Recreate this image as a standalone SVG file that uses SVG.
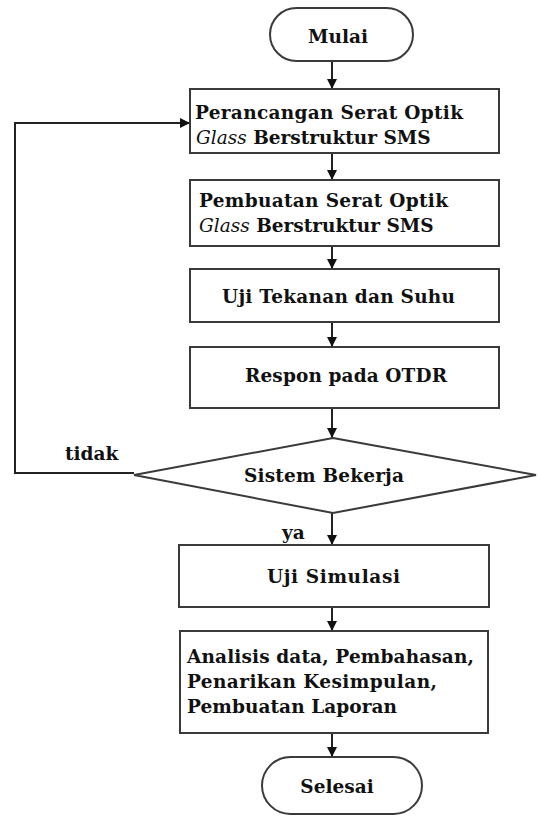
<svg xmlns="http://www.w3.org/2000/svg" width="539" height="821" viewBox="0 0 539 821">
<defs>
<marker id="ah" viewBox="0 0 10 10" refX="10" refY="5" markerWidth="10" markerHeight="10" markerUnits="userSpaceOnUse" orient="auto">
<path d="M0,0 L10,5 L0,10 z" fill="#111"/>
</marker>
<style>
.shape{fill:#fff;stroke:#3a3a3a;stroke-width:2}
.t{font-family:"DejaVu Serif","Liberation Serif",serif;font-weight:bold;font-size:18.5px;fill:#111}
.i{font-style:italic;font-weight:normal}
.c{fill:none;stroke:#222;stroke-width:2}
</style>
</defs>
<rect width="539" height="821" fill="#fff"/>
<g id="connectors">
<line class="c" x1="332" y1="61" x2="332" y2="89" marker-end="url(#ah)"/>
<line class="c" x1="332" y1="153" x2="332" y2="180" marker-end="url(#ah)"/>
<line class="c" x1="332" y1="246" x2="332" y2="269" marker-end="url(#ah)"/>
<line class="c" x1="332" y1="322" x2="332" y2="347" marker-end="url(#ah)"/>
<line class="c" x1="332" y1="408" x2="332" y2="438" marker-end="url(#ah)"/>
<line class="c" x1="332" y1="513" x2="332" y2="545" marker-end="url(#ah)"/>
<line class="c" x1="332" y1="607" x2="332" y2="631" marker-end="url(#ah)"/>
<line class="c" x1="332" y1="733" x2="332" y2="757" marker-end="url(#ah)"/>
<polyline class="c" points="134,473 15,473 15,123 190,123" marker-end="url(#ah)"/>
<text class="t" x="65" y="460">tidak</text>
<text class="t" x="282" y="539">ya</text>
</g>
<g id="mulai">
<rect class="shape" x="270" y="8" width="143" height="53" rx="26.5"/>
<text class="t" x="338" y="43" text-anchor="middle">Mulai</text>
</g>
<g id="perancangan">
<rect class="shape" x="190" y="89" width="309" height="64"/>
<text class="t" x="195" y="119" textLength="268">Perancangan Serat Optik</text>
<text class="t" x="196" y="144"><tspan class="i">Glass</tspan> Berstruktur SMS</text>
</g>
<g id="pembuatan">
<rect class="shape" x="190" y="180" width="309" height="66"/>
<text class="t" x="199" y="207" textLength="249">Pembuatan Serat Optik</text>
<text class="t" x="199" y="232"><tspan class="i">Glass</tspan> Berstruktur SMS</text>
</g>
<g id="uji-tekanan">
<rect class="shape" x="190" y="269" width="309" height="53"/>
<text class="t" x="222" y="303" textLength="233">Uji Tekanan dan Suhu</text>
</g>
<g id="respon">
<rect class="shape" x="190" y="347" width="309" height="61"/>
<text class="t" x="245" y="382" textLength="202">Respon pada OTDR</text>
</g>
<g id="sistem">
<polygon class="shape" points="333,438 536,475 333,513 134,475"/>
<text class="t" x="244" y="482" textLength="160">Sistem Bekerja</text>
</g>
<g id="uji-simulasi">
<rect class="shape" x="179" y="545" width="310" height="62"/>
<text class="t" x="267" y="583" textLength="133">Uji Simulasi</text>
</g>
<g id="analisis">
<rect class="shape" x="180" y="631" width="308" height="102"/>
<text class="t" x="187" y="663" textLength="287">Analisis data, Pembahasan,</text>
<text class="t" x="187" y="688" textLength="250">Penarikan Kesimpulan,</text>
<text class="t" x="187" y="713" textLength="210">Pembuatan Laporan</text>
</g>
<g id="selesai">
<rect class="shape" x="262" y="757" width="160" height="57" rx="28.5"/>
<text class="t" x="337" y="793" text-anchor="middle">Selesai</text>
</g>
</svg>
